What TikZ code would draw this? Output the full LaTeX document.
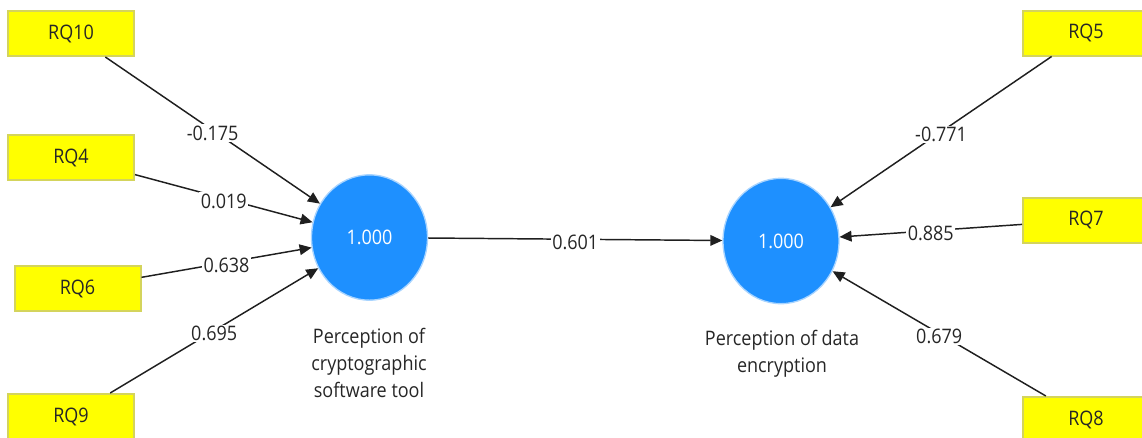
\documentclass[tikz,border=0pt]{standalone}
\usepackage{fontspec}
\setmainfont[FakeStretch=0.9]{Open Sans}
\usetikzlibrary{arrows.meta,shapes.geometric}
\definecolor{boxyellow}{HTML}{FFFF00}
\definecolor{boxedge}{HTML}{D4D45C}
\definecolor{lvblue}{HTML}{1E90FF}
\definecolor{lvedge}{HTML}{A8D4FF}
\definecolor{txtdark}{HTML}{262626}
\begin{document}
\begin{tikzpicture}[x=0.75pt,y=-0.75pt,
  ind/.style={draw=boxedge, line width=1.5pt, fill=boxyellow,
    minimum width=94.5pt, minimum height=33.75pt, inner sep=0pt,
    text=txtdark, font=\fontsize{15}{18}\selectfont},
  lv/.style={ellipse, draw=lvedge, line width=1pt, fill=lvblue,
    minimum width=87pt, minimum height=94pt, inner sep=0pt,
    text=white, font=\fontsize{15}{18}\selectfont},
  lvcaption/.style={align=center, text=txtdark, font=\fontsize{15}{20.25}\selectfont},
  link/.style={draw=black!88, line width=1.1pt, -{Triangle[length=9pt,width=8pt]}},
  wt/.style={fill=white, inner sep=1pt, pos=0.5, yshift=-2pt,
    text=txtdark, font=\fontsize{15}{18}\selectfont}]
\path[use as bounding box, clip] (0,0) rectangle (1142,437);
% indicators
\node[ind] (rq10) at (71,33.5) {RQ10};
\node[ind] (rq4) at (71,157.5) {RQ4};
\node[ind] (rq6) at (77.5,288.5) {RQ6};
\node[ind] (rq9) at (71,416.5) {RQ9};
\node[ind] (rq5) at (1086,33) {RQ5};
\node[ind] (rq7) at (1086,220) {RQ7};
\node[ind] (rq8) at (1086,419.5) {RQ8};
% latent variables
\node[lv] (c1) at (369.5,237.5) {1.000};
\node[lv] (c2) at (781,241) {1.000};
\node[lvcaption] (cap1) at (369,363) {Perception of\\cryptographic\\software tool};
\node[lvcaption] (cap2) at (782,353.5) {Perception of data\\encryption};
% connectors
\draw[link] (rq10) -- node[wt] {-0.175} (c1);
\draw[link] (rq4) -- node[wt] {0.019} (c1);
\draw[link] (rq6) -- node[wt] {0.638} (c1);
\draw[link] (rq9) -- node[wt] {0.695} (c1);
\draw[link] (c1) -- node[wt] {0.601} (c2);
\draw[link] (rq5) -- node[wt] {-0.771} (c2);
\draw[link] (rq7) -- node[wt] {0.885} (c2);
\draw[link] (rq8) -- node[wt] {0.679} (c2);
\end{tikzpicture}
\end{document}
